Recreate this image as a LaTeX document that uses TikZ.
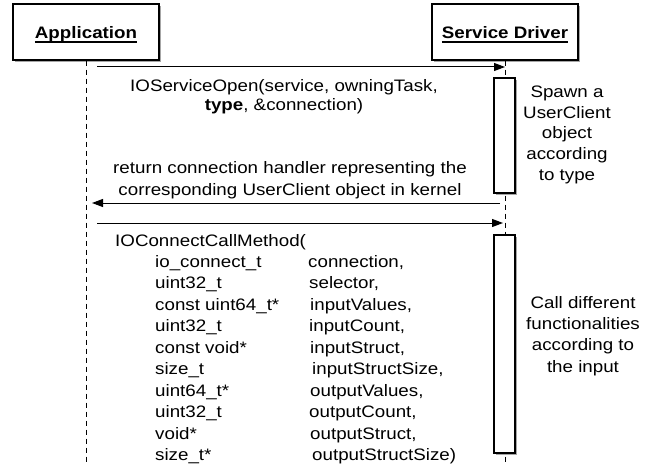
\documentclass[tikz,border=0pt]{standalone}
\usepackage{fontspec}
\setmainfont{Liberation Sans}[FakeStretch=1.13]
\usetikzlibrary{arrows.meta,shadows}

% bold header text with a rule just under the baseline
\newcommand{\hdrtext}[1]{\setbox0=\hbox{\bfseries #1}\rlap{\rule[-3.7pt]{\wd0}{1.4pt}}\box0}

\begin{document}
\begin{tikzpicture}[x=1pt,y=-1pt,
  font=\fontsize{16.6}{21}\selectfont,
  softshadow/.style={drop shadow={shadow xshift=1.6pt,shadow yshift=-1.6pt,opacity=0.35,fill=black}},
  actor/.style={draw,line width=1.1pt,fill=white,minimum width=146pt,minimum height=56pt,
    inner sep=0pt,text height=14pt,text depth=0pt,softshadow},
  lifeline/.style={line width=1pt,dash pattern=on 5pt off 4pt},
  actbar/.style={draw,line width=1.1pt,fill=white,minimum width=21pt,inner sep=0pt,softshadow},
  msg/.style={line width=1pt,-{Triangle[length=11pt,width=8pt]}},
  lbl/.style={align=center,anchor=base,inner sep=0pt},
  code/.style={anchor=base west,inner sep=0pt}]
\useasboundingbox (0,0) rectangle (655,465);

% participants
\node[actor] (app) at (86,32) {\hdrtext{Application}};
\node[actor] (drv) at (505,32) {\hdrtext{Service Driver}};

% lifelines
\coordinate (append) at (86,465);
\coordinate (drvend) at (505,465);
\draw[lifeline] (app.south) -- (append);
\draw[lifeline] (drv.south) -- (drvend);

% activation bars on the driver side
\node[actbar,minimum height=115pt] (bar1) at (504.5,135.5) {};
\node[actbar,minimum height=218pt] (bar2) at (504.5,344) {};

% message end points
\coordinate (m1s) at (97,67);
\coordinate (m1e) at (505,67);
\coordinate (m2s) at (500,203);
\coordinate (m2e) at (92,203);
\coordinate (m3s) at (97,223);
\coordinate (m3e) at (503,223);

\draw[msg] (m1s) -- (m1e);
\draw[msg] (m2s) -- (m2e);
\draw[msg] (m3s) -- (m3e);

% message labels (base anchor sits on the last line)
\node[lbl,font=\fontsize{16.6}{19}\selectfont] (open) at (284,111)
  {IOServiceOpen(service, owningTask,\\\textbf{type}, \&connection)};
\node[lbl,font=\fontsize{16.6}{22}\selectfont] (ret) at (290,195)
  {return connection handler representing the\\corresponding UserClient object in kernel};

% notes beside the activation bars
\node[lbl,font=\fontsize{16.6}{20.7}\selectfont] (spawn) at (567,180.3)
  {Spawn a\\UserClient\\object\\according\\to type};
\node[lbl,font=\fontsize{16.6}{21.3}\selectfont] (callnote) at (583,372)
  {Call different\\functionalities\\according to\\the input};

% IOConnectCallMethod signature
\node[code] (call) at (115,246.7) {IOConnectCallMethod(};
\node[code] (p1t)  at (155,267)   {io\_connect\_t};
\node[code] (p1n)  at (308,267)   {connection,};
\node[code] (p2t)  at (155,288.5) {uint32\_t};
\node[code] (p2n)  at (309,288.5) {selector,};
\node[code] (p3t)  at (155,310)   {const uint64\_t*};
\node[code] (p3n)  at (310,310)   {inputValues,};
\node[code] (p4t)  at (155,331.5) {uint32\_t};
\node[code] (p4n)  at (309,331.5) {inputCount,};
\node[code] (p5t)  at (155,353)   {const void*};
\node[code] (p5n)  at (310,353)   {inputStruct,};
\node[code] (p6t)  at (155,374.5) {size\_t};
\node[code] (p6n)  at (312,374.5) {inputStructSize,};
\node[code] (p7t)  at (155,396)   {uint64\_t*};
\node[code] (p7n)  at (310,396)   {outputValues,};
\node[code] (p8t)  at (155,417.5) {uint32\_t};
\node[code] (p8n)  at (309,417.5) {outputCount,};
\node[code] (p9t)  at (155,439)   {void*};
\node[code] (p9n)  at (310,439)   {outputStruct,};
\node[code] (p10t) at (155,460.5) {size\_t*};
\node[code] (p10n) at (312,460.5) {outputStructSize)};
\end{tikzpicture}
\end{document}
